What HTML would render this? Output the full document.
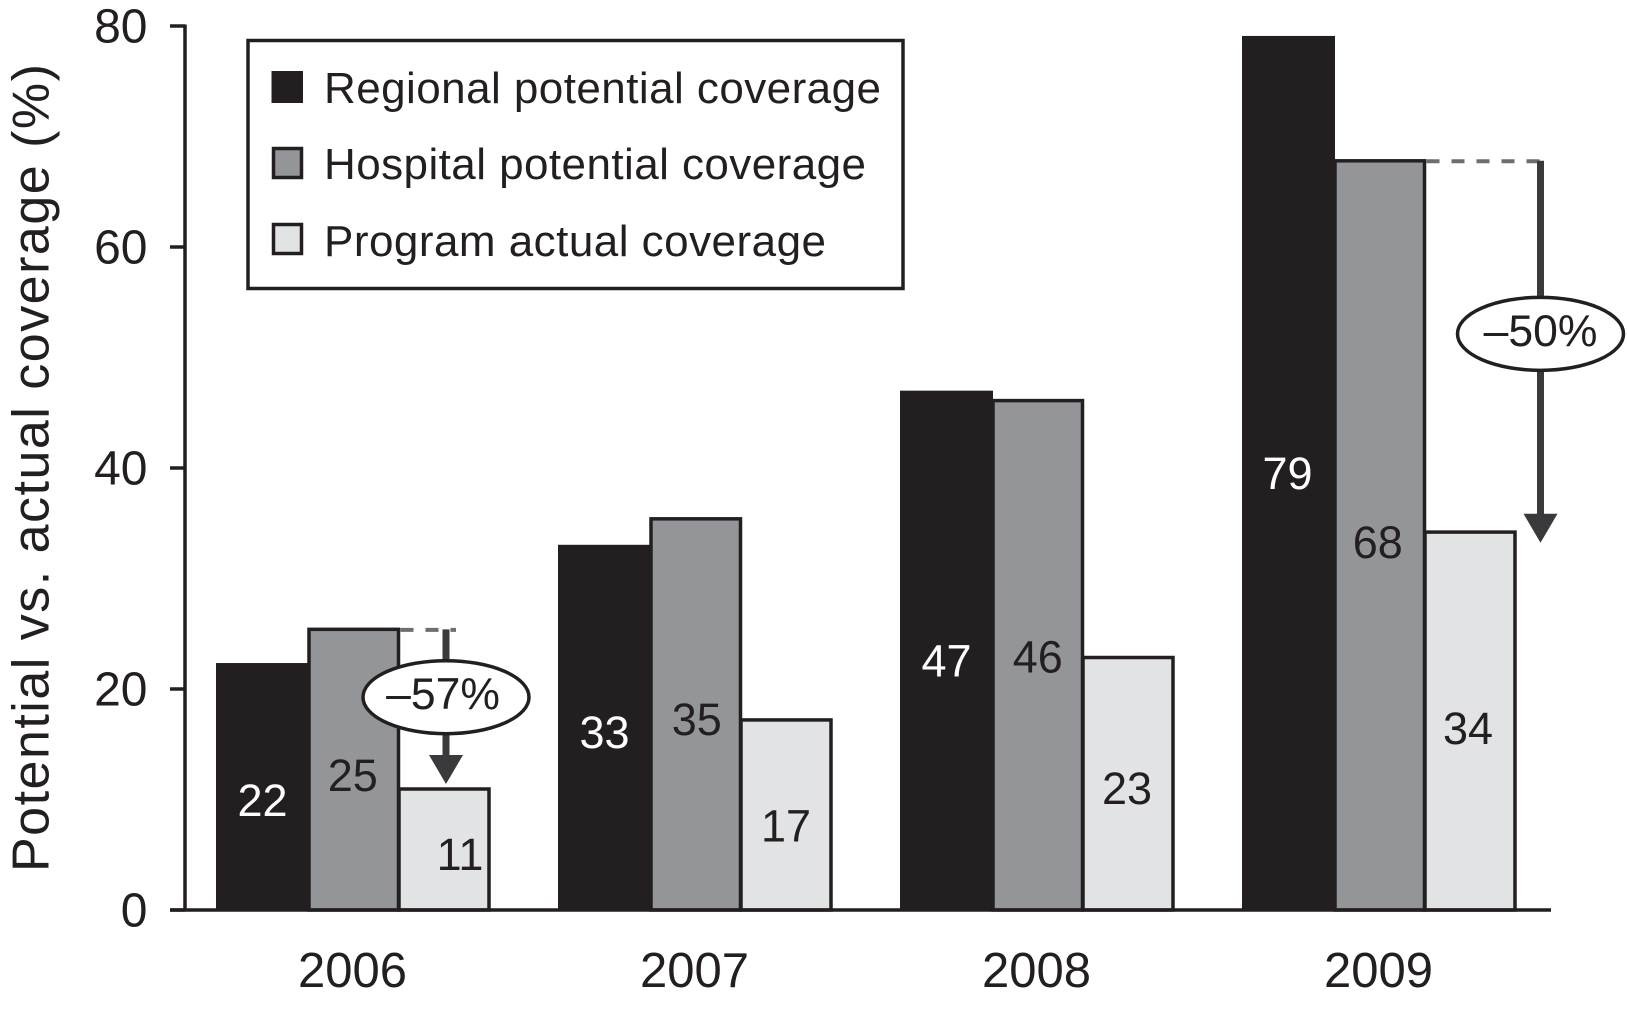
<!DOCTYPE html>
<html lang="en">
<head>
<meta charset="utf-8">
<title>Potential vs. actual coverage</title>
<style>
html,body{margin:0;padding:0;background:#fff;width:1627px;height:1010px;overflow:hidden}
svg{display:block}
text{font-family:"Liberation Sans",Arial,sans-serif;fill:#231f20}
</style>
</head>
<body>
<svg id="chart" xmlns="http://www.w3.org/2000/svg" width="1627" height="1010" viewBox="0 0 1627 1010">
  <rect x="0" y="0" width="1627" height="1010" fill="#fff"/>
  <g id="bars"></g>
  <g id="annotations"></g>
  <g id="value-labels"></g>
  <g id="axes"></g>
  <text transform="translate(48.5,468) rotate(-90)" text-anchor="middle" font-size="52" textLength="808" lengthAdjust="spacing">Potential vs. actual coverage (%)</text>
  <g>
    <rect x="248" y="40.5" width="655" height="248" fill="#fff" stroke="#231f20" stroke-width="3.5"/>
    <rect x="271.5" y="71" width="31.5" height="32" fill="#231f20"/>
    <text x="324" y="103" font-size="44" textLength="557" lengthAdjust="spacing">Regional potential coverage</text>
    <rect x="273.5" y="148.5" width="28" height="29" fill="#939598" stroke="#231f20" stroke-width="3.5"/>
    <text x="324" y="179" font-size="44" textLength="542" lengthAdjust="spacing">Hospital potential coverage</text>
    <rect x="273.5" y="224.5" width="28" height="29" fill="#e1e3e5" stroke="#231f20" stroke-width="3.5"/>
    <text x="324" y="256" font-size="44" textLength="502" lengthAdjust="spacing">Program actual coverage</text>
  </g>
</svg>
<script>
// ---- chart data ----
const years = ['2006', '2007', '2008', '2009'];
const regionalPotential = [22.35, 33.05, 47.0, 79.1];
const hospitalPotential = [25.4, 35.4, 46.1, 67.8];
const programActual = [10.95, 17.2, 22.85, 34.2];
const yTicks = [0, 20, 40, 60, 80];
const reductionYears = ['2006', '2009'];

// ---- axis functions ----
const yBase = 910, yPerUnit = 11.05;
function yOf(v) { return yBase - v * yPerUnit; }
const groupLeft0 = 216, groupStep = 342;
function groupX(i) { return groupLeft0 + groupStep * i; }

// ---- layout only (no data) ----
const NS = 'http://www.w3.org/2000/svg';
const INK = '#231f20';
const seriesNames = ['regional', 'hospital', 'program'];
const seriesList = [regionalPotential, hospitalPotential, programActual];
const bandLeft = [0, 93, 183];
const bandRight = [93, 182.5, 273];
const labelFill = ['#fff', INK, INK];
// where a bar's printed value sits, as a share of that bar's height
const labelLift = [
  [0.385, 0.447, 0.452, 0.483],
  [0.4275, 0.450, 0.468, 0.471],
  [0.339, 0.366, 0.423, 0.442]
];
const labelNudge = [
  [0, 0, 0, -1],
  [-1, 1, 0, -2],
  [16, 0, -1, -2]
];
const reductionLayout = [
  { stemShift: 230, dashEnd: 240, ovalShare: 0.425, textShift: -3, tipGap: -5 },
  { stemShift: 298.5, dashEnd: 308, ovalShare: 0.466, textShift: 0, tipGap: 10.7 }
];

function make(tag, attrs, parent, text) {
  const n = document.createElementNS(NS, tag);
  for (const k in attrs) n.setAttribute(k, attrs[k]);
  if (text !== undefined) n.textContent = text;
  parent.appendChild(n);
  return n;
}

const gBars = document.getElementById('bars');
const gLabels = document.getElementById('value-labels');
const gAnn = document.getElementById('annotations');
const gAxes = document.getElementById('axes');

// bars + printed values
seriesList.forEach(function (values, s) {
  values.forEach(function (v, i) {
    const x0 = groupX(i) + bandLeft[s];
    const x1 = groupX(i) + bandRight[s];
    const top = yOf(v);
    const bar = make('rect', {
      x: x0, y: top, width: x1 - x0, height: yBase - top,
      fill: s === 0 ? INK : (s === 1 ? '#939598' : '#e1e3e5'),
      stroke: s === 0 ? 'none' : INK,
      'stroke-width': 3.5
    }, gBars);
    
    

    const label = make('text', {
      x: (x0 + x1) / 2 + labelNudge[s][i],
      y: yOf(v * labelLift[s][i]) + 1,
      'text-anchor': 'middle',
      'font-size': 45,
      style: 'fill:' + labelFill[s]
    }, gLabels, String(Math.round(v)));
    
    
  });
});

// reduction annotations
reductionYears.forEach(function (year, k) {
  const i = years.indexOf(year);
  const L = reductionLayout[k];
  const yTop = yOf(hospitalPotential[i]);
  const yLow = yOf(programActual[i]);
  const cx = groupX(i) + L.stemShift;
  const tip = yLow + L.tipGap;
  const headTop = tip - 29;
  const ovalY = yTop + (yLow - yTop) * L.ovalShare;

  const dash = make('line', {
    x1: groupX(i) + bandRight[1] + 2, y1: yTop + 0.5,
    x2: groupX(i) + L.dashEnd, y2: yTop + 0.5,
    stroke: '#6d6e71', 'stroke-width': 4, 'stroke-dasharray': '13 12'
  }, gAnn);
  
  

  const stem = make('line', {
    x1: cx, y1: yTop, x2: cx, y2: headTop + 1,
    stroke: '#3a3a3c', 'stroke-width': 7
  }, gAnn);
  
  

  const head = make('polygon', {
    points: (cx - 17) + ',' + headTop + ' ' + (cx + 17) + ',' + headTop + ' ' + cx + ',' + tip,
    fill: '#3a3a3c'
  }, gAnn);
  
  

  const oval = make('ellipse', {
    cx: cx, cy: ovalY, rx: 83, ry: 36.5,
    fill: '#fff', stroke: INK, 'stroke-width': 3.5
  }, gAnn);
  
  

  const pct = Math.round((programActual[i] - hospitalPotential[i]) / hospitalPotential[i] * 100);
  const t = make('text', {
    x: cx + L.textShift, y: ovalY + 12,
    'text-anchor': 'middle', 'font-size': 44.5
  }, gAnn, '\u2013' + Math.abs(pct) + '%');
  
  
});

// axes
const xAxis = make('line', { x1: 170, y1: yBase, x2: 1551, y2: yBase, stroke: INK, 'stroke-width': 3.5 }, gAxes);



const yAxis = make('line', { x1: 185, y1: yOf(80) - 1.5, x2: 185, y2: yBase, stroke: INK, 'stroke-width': 3.5 }, gAxes);



yTicks.forEach(function (v) {
  const tick = make('line', { x1: 170, y1: yOf(v), x2: 185, y2: yOf(v), stroke: INK, 'stroke-width': 3.5 }, gAxes);
  
  

  const lab = make('text', { x: 147.5, y: yOf(v) + 16.5, 'text-anchor': 'end', 'font-size': 48 }, gAxes, String(v));
  
  
});

years.forEach(function (year, i) {
  const lab = make('text', { x: groupX(i) + 136.5, y: 987, 'text-anchor': 'middle', 'font-size': 49 }, gAxes, year);
  
  
});
</script>
</body>
</html>
